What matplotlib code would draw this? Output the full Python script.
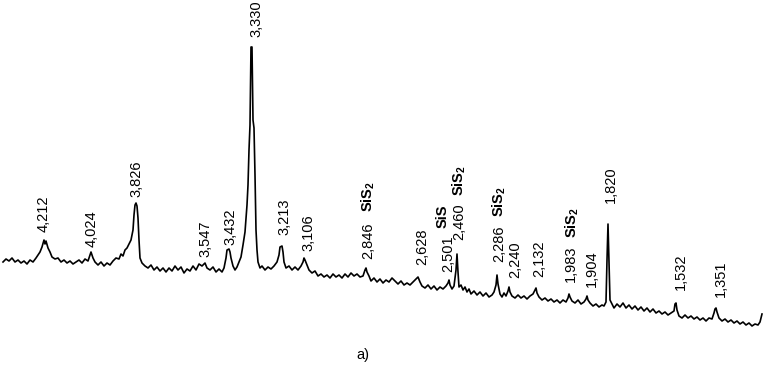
import matplotlib
matplotlib.use("Agg")
import matplotlib.pyplot as plt

# diffractogram trace (x position, signal height in image units, downward)
trace_x = [
    3, 6, 9, 12, 15, 18, 21, 24, 27, 30, 33, 36, 38, 40, 42, 44, 45, 46, 48, 50,
    52, 55, 58, 61, 64, 67, 70, 73, 76, 79, 82, 85, 88, 90, 91, 93, 95, 98, 101, 104,
    107, 110, 113, 116, 119, 121, 123, 125, 127, 129, 131, 133, 134, 135, 136, 137, 138, 139, 140, 142,
    145, 148, 151, 154, 157, 160, 163, 166, 169, 172, 175, 178, 181, 184, 187, 190, 193, 196, 199, 202,
    205, 207, 210, 213, 216, 219, 222, 224, 226, 227, 229, 230, 231, 233, 235, 237, 239, 241, 243, 245,
    247, 248, 249, 250, 251, 252, 253, 254, 255, 256, 257, 258, 260, 262, 265, 268, 271, 274, 277, 279,
    280, 282, 283, 284, 286, 289, 292, 295, 298, 301, 303, 304, 305, 307, 309, 312, 315, 318, 321, 324,
    327, 330, 333, 336, 339, 342, 345, 348, 351, 354, 357, 360, 363, 365, 366, 367, 369, 371, 374, 377,
    380, 383, 386, 389, 392, 395, 398, 401, 404, 407, 410, 413, 416, 418, 420, 422, 425, 428, 431, 434,
    437, 440, 443, 446, 448, 449, 450, 452, 454, 456, 457, 458, 459, 461, 463, 465, 467, 469, 471, 474,
    477, 480, 483, 486, 489, 492, 494, 496, 497, 498, 500, 502, 504, 506, 508, 509, 510, 512, 515, 518,
    521, 524, 527, 530, 533, 535, 536, 537, 539, 542, 545, 548, 551, 554, 557, 560, 563, 566, 568, 569,
    570, 572, 575, 578, 581, 584, 586, 587, 588, 590, 593, 596, 599, 602, 604, 606, 607, 608, 609, 610,
    612, 614, 617, 620, 623, 626, 629, 632, 635, 638, 641, 644, 647, 650, 653, 656, 659, 662, 665, 668,
    671, 674, 675, 676, 677, 679, 682, 685, 688, 691, 694, 697, 700, 703, 706, 709, 712, 714, 715, 716,
    717, 719, 722, 725, 728, 731, 734, 737, 740, 743, 746, 749, 752, 755, 758, 760, 762,
]
trace_y = [
    262, 259, 261, 258, 262, 260, 263, 261, 264, 260, 262, 258, 255, 252, 247, 240, 244, 241, 248, 252,
    257, 259, 258, 262, 260, 263, 261, 264, 262, 260, 263, 259, 261, 255, 252, 258, 262, 265, 262, 266,
    263, 265, 261, 258, 259, 254, 256, 250, 248, 244, 240, 230, 215, 205, 203, 206, 218, 240, 258, 263,
    266, 268, 265, 270, 267, 271, 268, 272, 268, 271, 266, 270, 267, 273, 269, 271, 266, 270, 264, 266,
    263, 268, 270, 267, 272, 269, 272, 268, 258, 250, 249, 252, 258, 266, 270, 267, 262, 257, 245, 232,
    205, 185, 150, 125, 47, 47, 120, 128, 175, 230, 250, 262, 268, 266, 270, 267, 269, 266, 262, 255,
    247, 246, 252, 262, 268, 266, 270, 267, 270, 266, 262, 258, 260, 265, 270, 273, 271, 276, 274, 277,
    275, 278, 274, 277, 275, 278, 274, 277, 273, 276, 274, 277, 276, 270, 268, 272, 276, 281, 278, 282,
    279, 283, 280, 282, 278, 281, 284, 281, 285, 283, 285, 282, 279, 277, 282, 286, 288, 285, 289, 286,
    290, 287, 289, 286, 283, 280, 285, 289, 286, 270, 254, 272, 287, 285, 290, 287, 292, 289, 294, 291,
    295, 292, 296, 293, 297, 295, 292, 285, 275, 284, 294, 297, 293, 296, 291, 287, 292, 296, 298, 295,
    298, 296, 299, 296, 294, 290, 288, 293, 297, 300, 298, 301, 299, 302, 300, 303, 300, 302, 298, 294,
    297, 301, 303, 300, 304, 302, 299, 296, 300, 303, 306, 304, 307, 305, 306, 302, 260, 224, 260, 300,
    304, 308, 304, 307, 303, 308, 305, 309, 306, 310, 307, 311, 308, 312, 309, 313, 311, 314, 312, 315,
    313, 311, 304, 303, 310, 316, 318, 315, 318, 316, 319, 317, 320, 318, 321, 318, 319, 313, 309, 308,
    312, 318, 321, 319, 322, 320, 323, 321, 324, 322, 325, 323, 326, 324, 325, 322, 314,
]

# d-spacing labels of the peaks
peak_labels = ["4,212", "4,024", "3,826", "3,547", "3,432", "3,330", "3,213", "3,106", "2,846",
               "2,628", "2,501", "2,460", "2,286", "2,240", "2,132", "1,983", "1,904", "1,820",
               "1,532", "1,351"]
label_x = [44, 92, 136, 205, 230, 256, 284, 308, 368, 422, 448, 459, 499, 515, 539, 571, 592, 611, 681, 721]
label_y = [232, 247, 197, 257, 245, 37, 235, 251, 259, 265, 272, 240, 262, 278, 277, 282, 287, 203, 290, 297]

# phase marks
phase_labels = ["SiS$_2$", "SiS", "SiS$_2$", "SiS$_2$", "SiS$_2$"]
phase_x = [368, 443, 459, 499, 572]
phase_y = [212, 228, 196, 217, 238]

plt.rcParams["font.family"] = ["Liberation Sans", "DejaVu Sans"]
plt.rcParams["mathtext.fontset"] = "custom"
plt.rcParams["mathtext.rm"] = "Liberation Sans:bold"
plt.rcParams["mathtext.default"] = "rm"

fig = plt.figure(figsize=(7.64, 3.66), dpi=100)
ax = fig.add_axes([0, 0, 1, 1])
ax.plot(trace_x, trace_y, color="black", lw=1.2)

for txt, x, y in zip(peak_labels, label_x, label_y):
    ax.text(x, y, txt, rotation=90, ha="center", va="bottom", fontsize=10.5)

for txt, x, y in zip(phase_labels, phase_x, phase_y):
    ax.text(x, y, txt, rotation=90, ha="center", va="bottom", fontsize=10.5, fontweight="bold")

ax.text(363, 355, "a)", ha="center", va="center", fontsize=10.5)

ax.set_xlim(0, 764)
ax.set_ylim(366, 0)
ax.axis("off")

fig.savefig("out.png", dpi=100, facecolor="white")
